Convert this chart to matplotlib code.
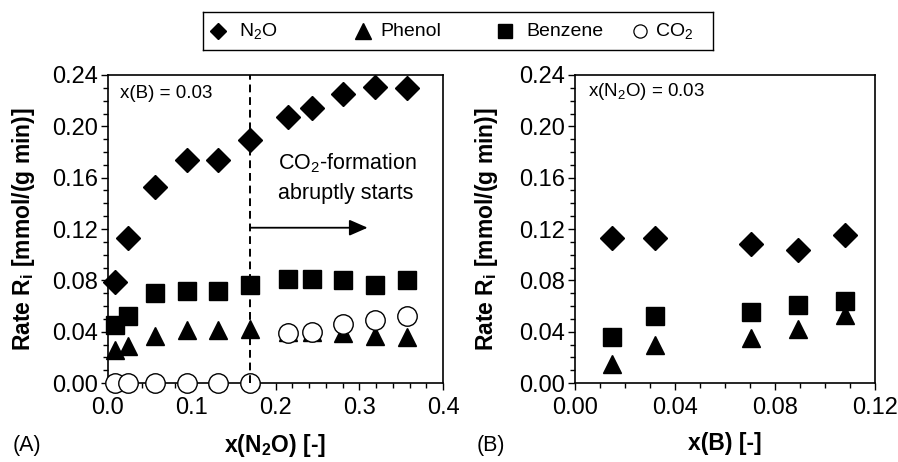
import matplotlib
matplotlib.use("Agg")
import matplotlib.pyplot as plt
from matplotlib.ticker import MultipleLocator, FormatStrFormatter

plt.rcParams["font.family"] = ["Liberation Sans", "DejaVu Sans"]
plt.rcParams["mathtext.default"] = "regular"

# (A) varying N2O fraction at x(B) = 0.03
x_n2o = [0.008, 0.024, 0.056, 0.094, 0.131, 0.170, 0.215, 0.243, 0.281, 0.319, 0.357]
rate_n2o_a = [0.079, 0.113, 0.153, 0.174, 0.174, 0.189, 0.207, 0.214, 0.225, 0.231, 0.230]
rate_benz_a = [0.045, 0.052, 0.070, 0.072, 0.072, 0.076, 0.081, 0.081, 0.080, 0.076, 0.080]
rate_phen_a = [0.026, 0.029, 0.037, 0.041, 0.041, 0.042, 0.040, 0.040, 0.039, 0.037, 0.036]
rate_co2_a = [0.0, 0.0, 0.0, 0.0, 0.0, 0.0, 0.039, 0.040, 0.046, 0.049, 0.052]

# (B) varying benzene fraction at x(N2O) = 0.03
x_benz = [0.0147, 0.032, 0.0704, 0.089, 0.108]
rate_n2o_b = [0.113, 0.113, 0.108, 0.104, 0.115]
rate_benz_b = [0.036, 0.052, 0.055, 0.061, 0.064]
rate_phen_b = [0.015, 0.030, 0.035, 0.042, 0.053]

co2_onset = 0.17

species = ["N$_2$O", "Phenol", "Benzene", "CO$_2$"]
stil = {
    "N$_2$O": dict(marker="D", ms=12.5, mfc="black", mec="black"),
    "Phenol": dict(marker="^", ms=13.5, mfc="black", mec="black"),
    "Benzene": dict(marker="s", ms=12.5, mfc="black", mec="black"),
    "CO$_2$": dict(marker="o", ms=14, mfc="white", mec="black", mew=1.0),
}
stil_legend = {
    "N$_2$O": dict(marker="D", ms=8.5),
    "Phenol": dict(marker="^", ms=11),
    "Benzene": dict(marker="s", ms=10),
    "CO$_2$": dict(marker="o", ms=9.5, mfc="white", mew=0.9),
}

W, H = 898, 462
fig = plt.figure(figsize=(W / 100, H / 100), dpi=100)
axA = fig.add_axes([108 / W, 79 / H, 335 / W, 308 / H])
axB = fig.add_axes([575 / W, 79 / H, 300 / W, 308 / H])


def seri(ax, x, y, ad):
    ax.plot(x, y, ls="none", clip_on=False, zorder=3, **stil[ad])


def eksen(ax, xmax, xmajor, xminor, xfmt, xlabel):
    ax.set_xlim(0, xmax)
    ax.set_ylim(0, 0.24)
    ax.xaxis.set_major_locator(MultipleLocator(xmajor))
    ax.xaxis.set_minor_locator(MultipleLocator(xminor))
    ax.xaxis.set_major_formatter(FormatStrFormatter(xfmt))
    ax.yaxis.set_major_locator(MultipleLocator(0.04))
    ax.yaxis.set_minor_locator(MultipleLocator(0.01))
    ax.yaxis.set_major_formatter(FormatStrFormatter("%.2f"))
    ax.tick_params(which="both", direction="out", width=1.0, labelsize=17,
                   top=False, right=False)
    ax.tick_params(axis="x", pad=5)
    ax.tick_params(axis="y", pad=2)
    ax.tick_params(which="major", length=5)
    ax.tick_params(which="minor", length=3.5)
    for s in ax.spines.values():
        s.set_linewidth(1.2)
    ax.set_xlabel(xlabel, fontsize=16.5, fontweight="bold")
    ax.set_ylabel("Rate R$_i$ [mmol/(g min)]", fontsize=16.5, fontweight="bold")
    ax.xaxis.set_label_coords(0.5, -0.16)


# panel A
seri(axA, x_n2o, rate_n2o_a, "N$_2$O")
seri(axA, x_n2o, rate_benz_a, "Benzene")
seri(axA, x_n2o, rate_phen_a, "Phenol")
seri(axA, x_n2o, rate_co2_a, "CO$_2$")
eksen(axA, 0.4, 0.1, 0.02, "%.1f", "x(N$_2$O) [-]")
axA.yaxis.set_label_coords(-0.212, 0.5)
axA.axvline(co2_onset, color="black", lw=1.4, dashes=(4, 2.5), zorder=5)
axA.annotate("", xy=(0.31, 0.121), xytext=(co2_onset, 0.121),
             arrowprops=dict(arrowstyle="-|>,head_length=0.8,head_width=0.35",
                             mutation_scale=14, lw=1.3, color="black",
                             shrinkA=0, shrinkB=0))
axA.text(0.203, 0.1714, "CO$_2$-formation", fontsize=15.5, va="center", ha="left")
axA.text(0.203, 0.148, "abruptly starts", fontsize=15.5, va="center", ha="left")
axA.text(0.036, 0.94, "x(B) = 0.03", fontsize=13.5, transform=axA.transAxes,
         va="center", ha="left")

# panel B
seri(axB, x_benz, rate_n2o_b, "N$_2$O")
seri(axB, x_benz, rate_benz_b, "Benzene")
seri(axB, x_benz, rate_phen_b, "Phenol")
eksen(axB, 0.12, 0.04, 0.01, "%.2f", "x(B) [-]")
axB.yaxis.set_label_coords(-0.25, 0.5)
axB.text(0.043, 0.945, "x(N$_2$O) = 0.03", fontsize=13.5, transform=axB.transAxes,
         va="center", ha="left")

fig.text(13 / W, 1 - 446 / H, "(A)", fontsize=15.5, va="center", ha="left")
fig.text(477 / W, 1 - 446 / H, "(B)", fontsize=15.5, va="center", ha="left")

# legend box drawn as its own small axes, one slot per species
lg = fig.add_axes([203 / W, 1 - 50 / H, 510 / W, 38 / H])
lg.set_xlim(0, 510)
lg.set_ylim(0, 1)
lg.set_xticks([])
lg.set_yticks([])
for s in lg.spines.values():
    s.set_linewidth(1.0)
marker_x = [15, 160, 302, 437]
label_x = [36, 177, 323, 452]
for ad, mx, tx in zip(species, marker_x, label_x):
    kw = dict(mfc="black", mec="black")
    kw.update(stil_legend[ad])
    lg.plot([mx], [0.5], ls="none", **kw)
    lg.text(tx, 0.5, ad, fontsize=14, va="center", ha="left")

fig.savefig("out.png", dpi=100)
